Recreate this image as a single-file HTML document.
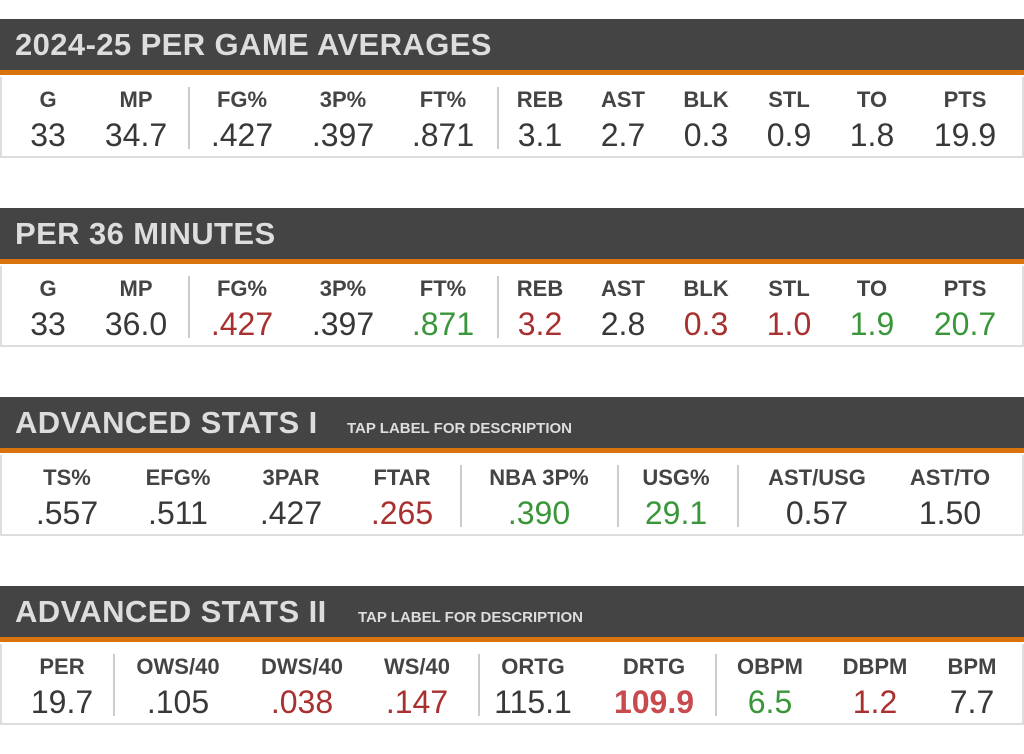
<!DOCTYPE html>
<html><head><style>
body{margin:0;width:1024px;height:754px;background:#fff;position:relative;overflow:hidden;font-family:"Liberation Sans",sans-serif;}
.hd{position:absolute;left:0;width:1024px;height:51px;background:#444;border-bottom:5px solid #d9730d;}
.hd span.t{position:absolute;left:15px;top:8px;font-size:31px;font-weight:bold;color:#ddd;letter-spacing:0.4px;}
.hd span.s{position:absolute;top:23px;font-size:15px;font-weight:bold;color:#ddd;}
.bx{position:absolute;left:0;width:1020px;height:79px;border:2px solid #ddd;border-top:none;background:#fff;}
.c{position:absolute;width:120px;margin-left:-60px;text-align:center;}
.l{top:10px;font-size:22px;font-weight:bold;color:#444;}
.v{top:40px;font-size:32px;color:#383838;}
.dv{position:absolute;top:10px;width:2px;height:62px;background:#ccc;}
.r{color:#a8302f}.g{color:#3a963a}
</style></head><body>

<div class="hd" style="top:19px"><span class="t">2024-25 PER GAME AVERAGES</span></div>
<div class="bx" style="top:77px">
<div class="dv" style="left:186px"></div><div class="dv" style="left:495px"></div>
<div class="c l" style="left:46px">G</div><div class="c v" style="left:46px">33</div>
<div class="c l" style="left:134px">MP</div><div class="c v" style="left:134px">34.7</div>
<div class="c l" style="left:240px">FG%</div><div class="c v" style="left:240px">.427</div>
<div class="c l" style="left:341px">3P%</div><div class="c v" style="left:341px">.397</div>
<div class="c l" style="left:441px">FT%</div><div class="c v" style="left:441px">.871</div>
<div class="c l" style="left:538px">REB</div><div class="c v" style="left:538px">3.1</div>
<div class="c l" style="left:621px">AST</div><div class="c v" style="left:621px">2.7</div>
<div class="c l" style="left:704px">BLK</div><div class="c v" style="left:704px">0.3</div>
<div class="c l" style="left:787px">STL</div><div class="c v" style="left:787px">0.9</div>
<div class="c l" style="left:870px">TO</div><div class="c v" style="left:870px">1.8</div>
<div class="c l" style="left:963px">PTS</div><div class="c v" style="left:963px">19.9</div>
</div>

<div class="hd" style="top:208px"><span class="t">PER 36 MINUTES</span></div>
<div class="bx" style="top:266px">
<div class="dv" style="left:186px"></div><div class="dv" style="left:495px"></div>
<div class="c l" style="left:46px">G</div><div class="c v" style="left:46px">33</div>
<div class="c l" style="left:134px">MP</div><div class="c v" style="left:134px">36.0</div>
<div class="c l" style="left:240px">FG%</div><div class="c v r" style="left:240px">.427</div>
<div class="c l" style="left:341px">3P%</div><div class="c v" style="left:341px">.397</div>
<div class="c l" style="left:441px">FT%</div><div class="c v g" style="left:441px">.871</div>
<div class="c l" style="left:538px">REB</div><div class="c v r" style="left:538px">3.2</div>
<div class="c l" style="left:621px">AST</div><div class="c v" style="left:621px">2.8</div>
<div class="c l" style="left:704px">BLK</div><div class="c v r" style="left:704px">0.3</div>
<div class="c l" style="left:787px">STL</div><div class="c v r" style="left:787px">1.0</div>
<div class="c l" style="left:870px">TO</div><div class="c v g" style="left:870px">1.9</div>
<div class="c l" style="left:963px">PTS</div><div class="c v g" style="left:963px">20.7</div>
</div>

<div class="hd" style="top:397px"><span class="t">ADVANCED STATS I</span><span class="s" style="left:347px">TAP LABEL FOR DESCRIPTION</span></div>
<div class="bx" style="top:455px">
<div class="dv" style="left:458px"></div><div class="dv" style="left:615px"></div><div class="dv" style="left:735px"></div>
<div class="c l" style="left:65px">TS%</div><div class="c v" style="left:65px">.557</div>
<div class="c l" style="left:176px">EFG%</div><div class="c v" style="left:176px">.511</div>
<div class="c l" style="left:289px">3PAR</div><div class="c v" style="left:289px">.427</div>
<div class="c l" style="left:400px">FTAR</div><div class="c v r" style="left:400px">.265</div>
<div class="c l" style="left:537px">NBA 3P%</div><div class="c v g" style="left:537px">.390</div>
<div class="c l" style="left:674px">USG%</div><div class="c v g" style="left:674px">29.1</div>
<div class="c l" style="left:815px">AST/USG</div><div class="c v" style="left:815px">0.57</div>
<div class="c l" style="left:948px">AST/TO</div><div class="c v" style="left:948px">1.50</div>
</div>

<div class="hd" style="top:586px"><span class="t">ADVANCED STATS II</span><span class="s" style="left:358px">TAP LABEL FOR DESCRIPTION</span></div>
<div class="bx" style="top:644px">
<div class="dv" style="left:111px"></div><div class="dv" style="left:476px"></div><div class="dv" style="left:713px"></div>
<div class="c l" style="left:60px">PER</div><div class="c v" style="left:60px">19.7</div>
<div class="c l" style="left:176px">OWS/40</div><div class="c v" style="left:176px">.105</div>
<div class="c l" style="left:300px">DWS/40</div><div class="c v r" style="left:300px">.038</div>
<div class="c l" style="left:415px">WS/40</div><div class="c v r" style="left:415px">.147</div>
<div class="c l" style="left:531px">ORTG</div><div class="c v" style="left:531px">115.1</div>
<div class="c l" style="left:652px">DRTG</div><div class="c v" style="left:652px;color:#c94a4e;font-weight:bold">109.9</div>
<div class="c l" style="left:768px">OBPM</div><div class="c v g" style="left:768px">6.5</div>
<div class="c l" style="left:873px">DBPM</div><div class="c v r" style="left:873px">1.2</div>
<div class="c l" style="left:970px">BPM</div><div class="c v" style="left:970px">7.7</div>
</div>
</body></html>
